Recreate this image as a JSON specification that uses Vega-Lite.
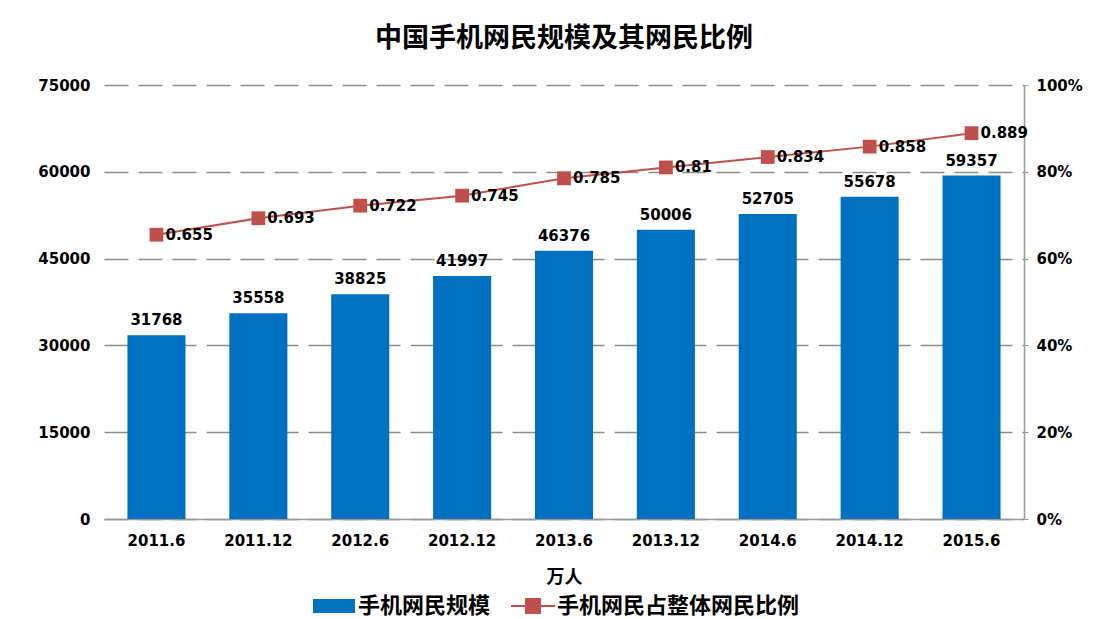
{
  "$schema": "https://vega.github.io/schema/vega-lite/v6.json",
  "width": 920,
  "height": 434,
  "autosize": {"type": "none"},
  "padding": {"left": 104, "top": 85, "right": 75, "bottom": 100},
  "background": "white",
  "config": {"view": {"stroke": null}},
  "title": {"text": "中国手机网民规模及其网民比例", "font": "Noto Sans CJK SC", "fontSize": 27, "fontWeight": "bold", "color": "#000000", "anchor": "middle", "offset": 25},
  "data": {"values": [
    {"period": "2011.6", "users": 31768, "ratio": 0.655},
    {"period": "2011.12", "users": 35558, "ratio": 0.693},
    {"period": "2012.6", "users": 38825, "ratio": 0.722},
    {"period": "2012.12", "users": 41997, "ratio": 0.745},
    {"period": "2013.6", "users": 46376, "ratio": 0.785},
    {"period": "2013.12", "users": 50006, "ratio": 0.81},
    {"period": "2014.6", "users": 52705, "ratio": 0.834},
    {"period": "2014.12", "users": 55678, "ratio": 0.858},
    {"period": "2015.6", "users": 59357, "ratio": 0.889}
  ]},
  "encoding": {
    "x": {"field": "period", "type": "ordinal", "sort": null,
      "scale": {"paddingInner": 0.43, "paddingOuter": 0.23},
      "axis": {"title": "万人", "labelAngle": 0, "labelFont": "DejaVu Sans", "labelFontWeight": "bold", "labelFontSize": 15, "labelColor": "#000000", "labelPadding": 14, "ticks": false, "domainColor": "#999999", "domainWidth": 1.5, "titleFont": "Noto Sans CJK SC", "titleFontSize": 18, "titleFontWeight": "bold", "titleColor": "#000000", "titlePadding": 20}}
  },
  "layer": [
    {
      "layer": [
        {"mark": {"type": "bar"},
         "encoding": {
           "y": {"field": "users", "type": "quantitative", "scale": {"domain": [0, 75000], "nice": false},
             "axis": {"title": null, "values": [0, 15000, 30000, 45000, 60000, 75000], "format": "d", "domain": false, "ticks": false, "labelFont": "DejaVu Sans", "labelFontWeight": "bold", "labelFontSize": 15, "labelColor": "#000000", "labelPadding": 14, "grid": true, "gridColor": "#8c8c8c", "gridDash": [24, 10], "gridWidth": 1.5}},
           "color": {"datum": "手机网民规模", "type": "nominal",
             "scale": {"domain": ["手机网民规模", "手机网民占整体网民比例"], "range": ["#0070C0", "#C0504D"]},
             "legend": {"title": null, "orient": "none", "legendX": 209, "legendY": 500, "direction": "horizontal",
               "symbolSize": 1600, "labelLimit": 400, "labelFont": "Noto Sans CJK SC", "labelFontSize": 22, "labelFontWeight": "bold", "labelColor": "#000000", "labelOffset": 3, "columnPadding": 16,
               "encode": {"symbols": {"update": {
                 "shape": {"signal": "datum.value === '手机网民规模' ? 'M-1,-0.3H1V0.3H-1Z' : 'M-1.1,0H-0.35M0.35,0H1.1M-0.35,-0.35H0.35V0.35H-0.35Z'"},
                 "fill": {"scale": "color", "field": "value"},
                 "stroke": {"scale": "color", "field": "value"},
                 "strokeWidth": {"value": 2},
                 "opacity": {"value": 1},
                 "fillOpacity": {"value": 1}
               }}}}}
         }},
        {"mark": {"type": "text", "baseline": "bottom", "dy": -7, "font": "DejaVu Sans", "fontWeight": "bold", "fontSize": 15, "color": "#000000"},
         "encoding": {
           "y": {"field": "users", "type": "quantitative"},
           "text": {"field": "users", "type": "quantitative", "format": "d"}
         }}
      ]
    },
    {
      "layer": [
        {"mark": {"type": "line", "color": "#C0504D", "strokeWidth": 2},
         "encoding": {
           "y": {"field": "ratio", "type": "quantitative", "scale": {"domain": [0, 1], "nice": false},
             "axis": {"orient": "right", "title": null, "values": [0, 0.2, 0.4, 0.6, 0.8, 1], "format": ".0%", "domainColor": "#999999", "domainWidth": 1.5, "tickColor": "#999999", "tickSize": 4, "labelFont": "DejaVu Sans", "labelFontWeight": "bold", "labelFontSize": 15, "labelColor": "#000000", "labelPadding": 8, "grid": false}}
         }},
        {"mark": {"type": "point", "shape": "square", "filled": true, "size": 190, "opacity": 1, "color": "#C0504D"},
         "encoding": {
           "y": {"field": "ratio", "type": "quantitative"},
           "color": {"datum": "手机网民占整体网民比例", "type": "nominal"}
         }},
        {"mark": {"type": "text", "align": "left", "baseline": "middle", "dx": 9, "font": "DejaVu Sans", "fontWeight": "bold", "fontSize": 15, "color": "#000000"},
         "encoding": {
           "y": {"field": "ratio", "type": "quantitative"},
           "text": {"field": "ratio", "type": "quantitative"}
         }}
      ]
    }
  ],
  "resolve": {"scale": {"y": "independent"}}
}
